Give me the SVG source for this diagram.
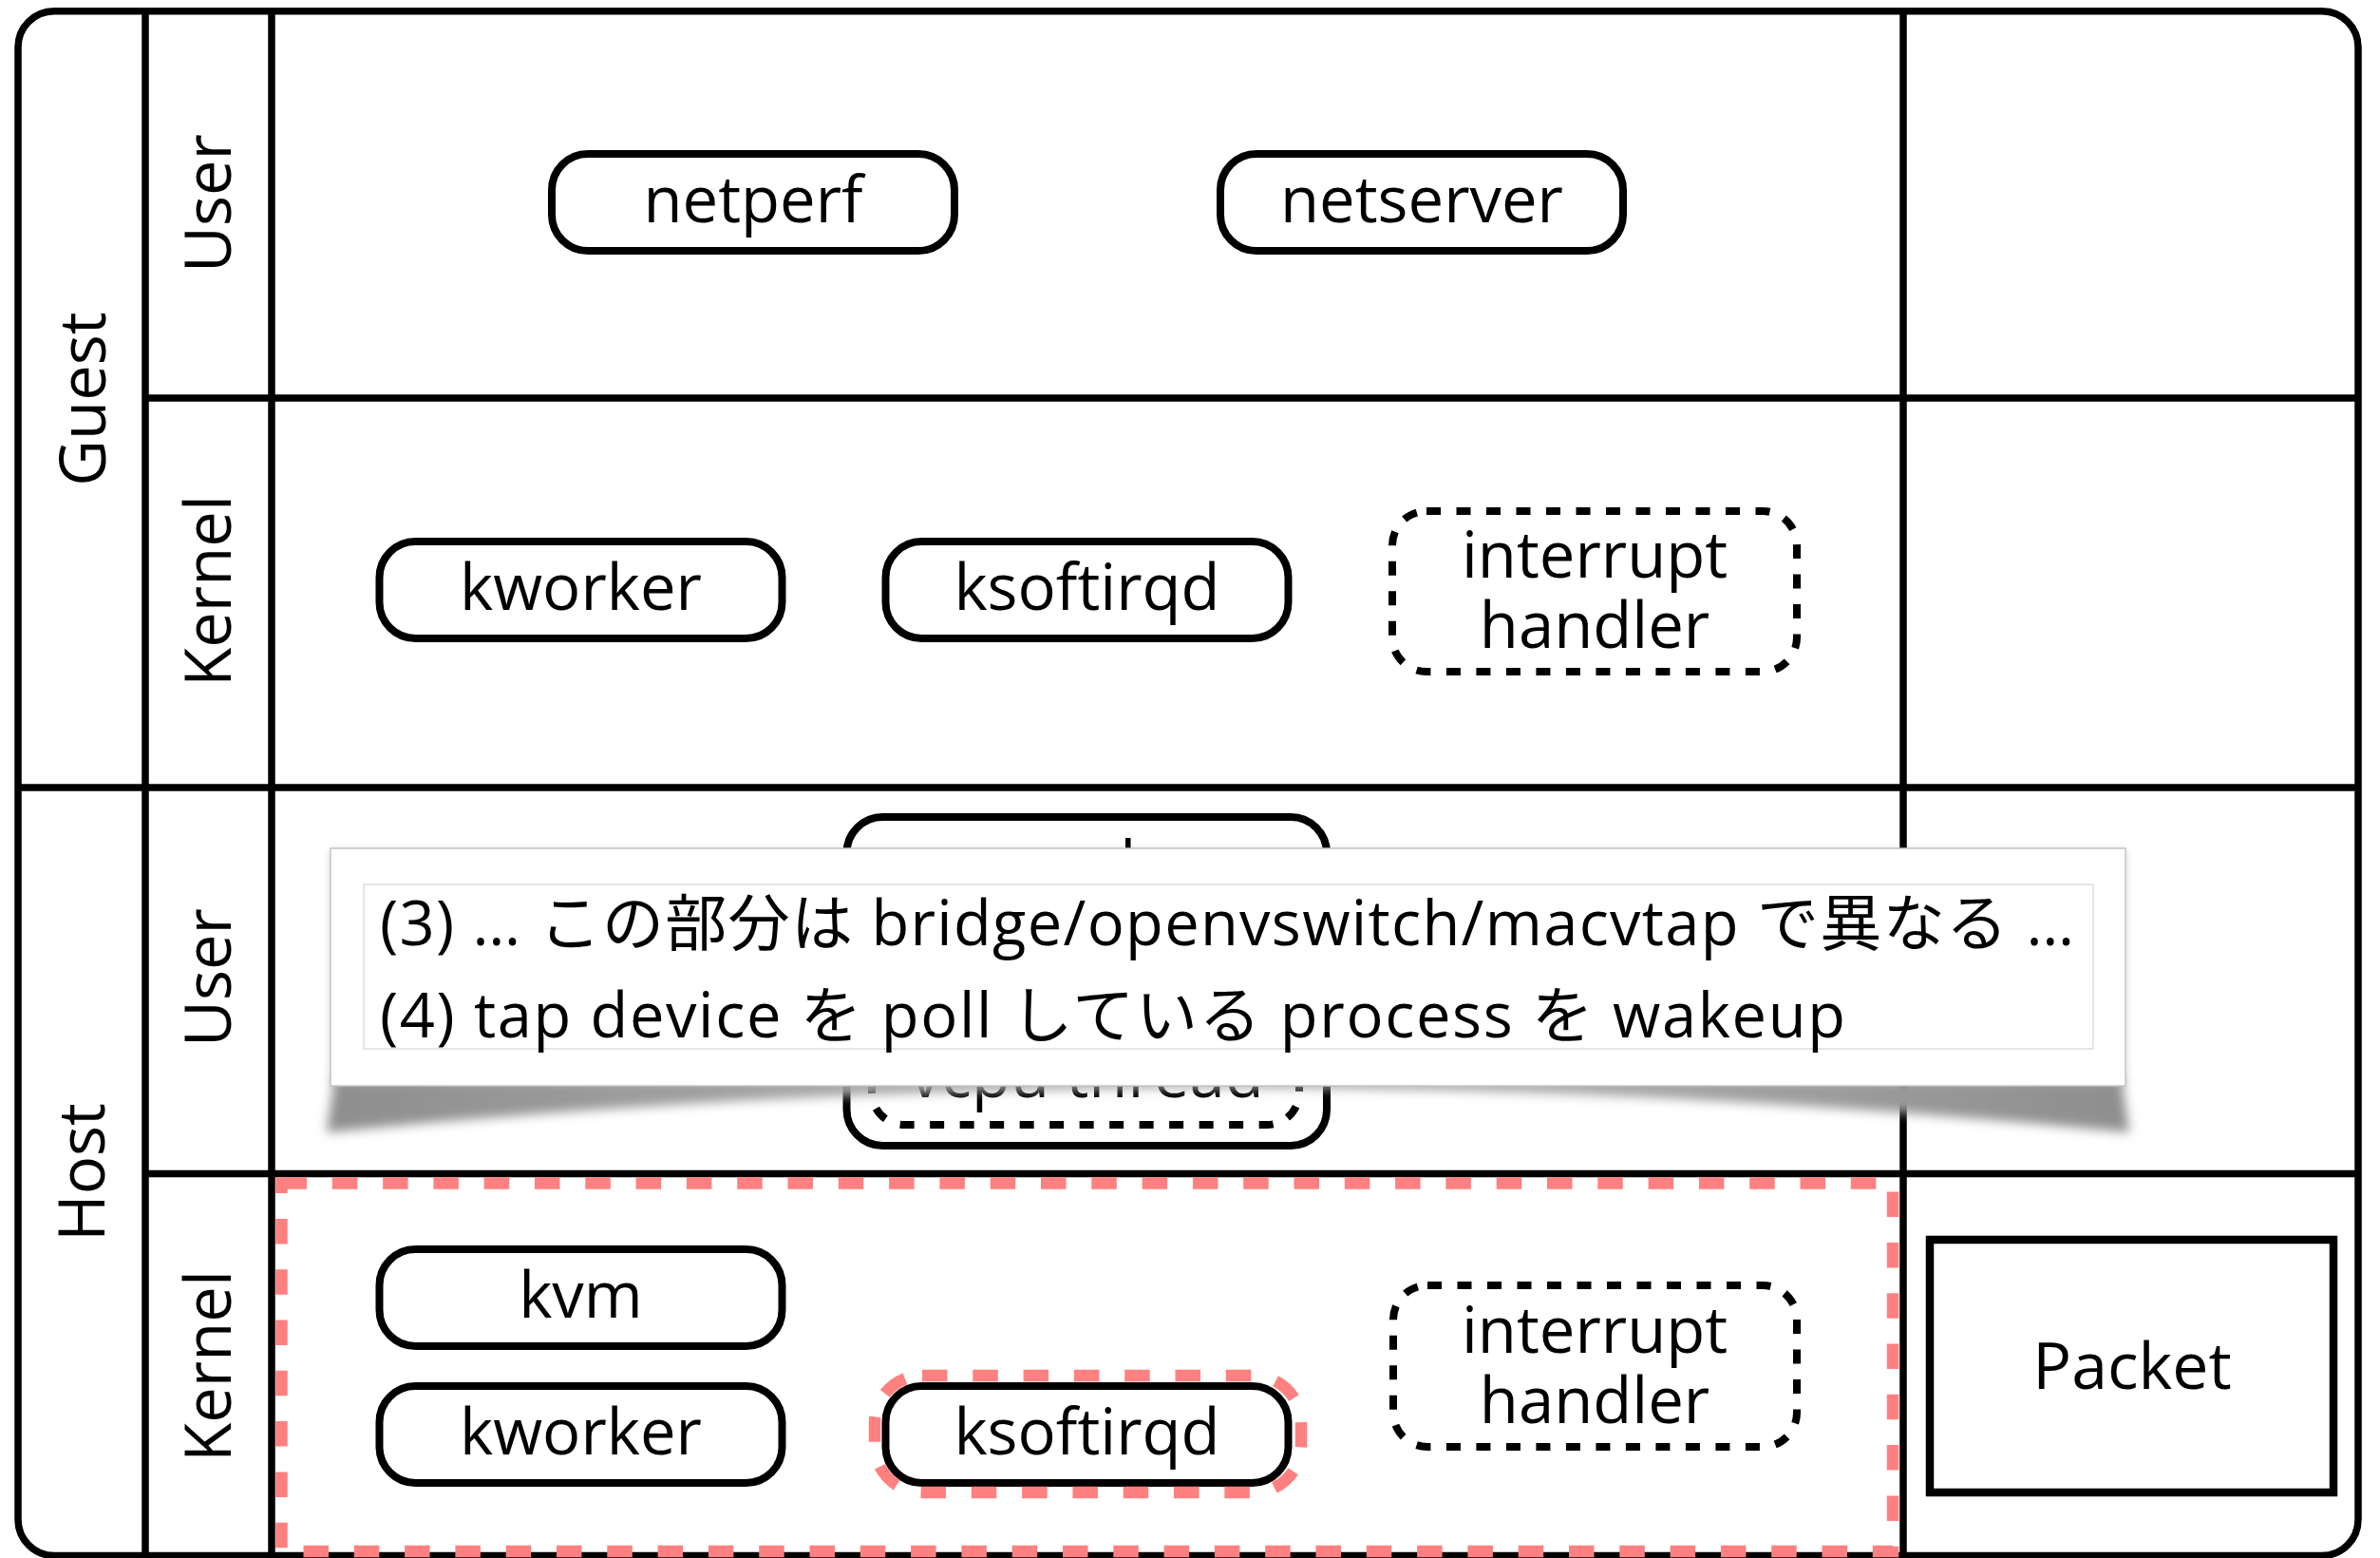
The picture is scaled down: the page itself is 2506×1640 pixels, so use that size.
<svg xmlns="http://www.w3.org/2000/svg" width="2506" height="1640" viewBox="0 0 2506 1640">
<defs>
<style>
.grid{fill:none;stroke:#000;stroke-width:7.5}
.box{fill:#fff;stroke:#000;stroke-width:8}
.dash{fill:#fff;stroke:#000;stroke-width:8;stroke-dasharray:15 16.5}
.hl{fill:none;stroke:#FF8080;stroke-width:12.5;stroke-dasharray:26.5 26.8}
.lbl{font-family:"Open Sans","Noto Sans CJK JP",sans-serif;font-size:67px;text-anchor:middle;fill:#000}
.note{font-family:"Open Sans","Noto Sans CJK JP",sans-serif;font-size:65px;fill:#000}
</style>
<filter id="blurA" x="-5%" y="-100%" width="110%" height="300%"><feGaussianBlur stdDeviation="6"/></filter>
<filter id="blurB" x="-5%" y="-20%" width="110%" height="140%"><feGaussianBlur stdDeviation="5"/></filter>
<linearGradient id="shg" x1="0" y1="0" x2="1" y2="0">
<stop offset="0" stop-color="#8e8e8e"/>
<stop offset="0.5" stop-color="#b8b8b8"/>
<stop offset="1" stop-color="#8e8e8e"/>
</linearGradient>
</defs>
<rect width="2506" height="1640" fill="#fff"/>

<g id="lanes">
<rect class="grid" x="19" y="11.7" width="2464" height="1625.8" rx="38"/>
<line class="grid" x1="153" y1="11.7" x2="153" y2="1637.5"/>
<line class="grid" x1="286" y1="11.7" x2="286" y2="1637.5"/>
<line class="grid" x1="2004" y1="11.7" x2="2004" y2="1637.5"/>
<line class="grid" x1="153" y1="419" x2="2483" y2="419"/>
<line class="grid" x1="19" y1="829" x2="2483" y2="829"/>
<line class="grid" x1="153" y1="1235.5" x2="2483" y2="1235.5"/>
<text class="lbl" transform="translate(111,420) rotate(-90)">Guest</text>
<text class="lbl" transform="translate(110,1234) rotate(-90)">Host</text>
<text class="lbl" transform="translate(243,214) rotate(-90)">User</text>
<text class="lbl" transform="translate(243,622) rotate(-90)">Kernel</text>
<text class="lbl" transform="translate(243,1029) rotate(-90)">User</text>
<text class="lbl" transform="translate(243,1438) rotate(-90)">Kernel</text>
</g>

<g id="connectors"></g>

<g id="node-netperf"><rect class="box" x="581" y="162" width="424" height="102" rx="38"/><text class="lbl" x="793" y="234">netperf</text></g>
<g id="node-netserver"><rect class="box" x="1285" y="162" width="424" height="102" rx="38"/><text class="lbl" x="1497" y="234">netserver</text></g>

<g id="node-guest-kworker"><rect class="box" x="399.5" y="570" width="424" height="102" rx="38"/><text class="lbl" x="611.5" y="642">kworker</text></g>
<g id="node-guest-ksoftirqd"><rect class="box" x="932.5" y="570" width="424" height="102" rx="38"/><text class="lbl" x="1144.5" y="642">ksoftirqd</text></g>
<g id="node-guest-irq"><rect class="dash" x="1466" y="538" width="426" height="169" rx="36"/><text class="lbl" x="1679" y="608">interrupt</text><text class="lbl" x="1679" y="682">handler</text></g>

<g id="node-host-qemu">
<rect class="box" x="891.5" y="860" width="505.5" height="346" rx="38"/>
<rect x="1185" y="882" width="5.5" height="12" fill="#000"/>
<rect class="dash" x="918" y="905" width="450" height="279" rx="34"/>
<text class="lbl" x="1144" y="1155">vcpu thread</text>
</g>

<g id="node-kvm"><rect class="box" x="399.5" y="1315" width="424" height="102" rx="38"/><text class="lbl" x="611.5" y="1387">kvm</text></g>
<g id="node-host-kworker"><rect class="box" x="399.5" y="1459" width="424" height="102" rx="38"/><text class="lbl" x="611.5" y="1531">kworker</text></g>
<g id="node-host-ksoftirqd"><rect class="box" x="932.5" y="1459" width="424" height="102" rx="38"/><text class="lbl" x="1144.5" y="1531">ksoftirqd</text></g>
<g id="node-host-irq"><rect class="dash" x="1467" y="1353" width="425" height="170" rx="36"/><text class="lbl" x="1679" y="1424">interrupt</text><text class="lbl" x="1679" y="1498">handler</text></g>
<g id="node-packet"><rect x="2032" y="1305" width="425" height="266" fill="#fff" stroke="#000" stroke-width="8.5"/><text class="lbl" x="2245" y="1462" style="font-size:68px">Packet</text></g>

<g id="highlights">
<rect class="hl" x="296.5" y="1245.5" width="1696.5" height="387.5"/>
<rect class="hl" x="921" y="1448" width="449" height="123" rx="50"/>
</g>

<g id="note">
<rect x="348" y="895" width="1890" height="248" fill="#000" opacity="0.2" filter="url(#blurB)"/>
<path d="M352,1136 L344,1192 Q1293,1098 2242,1192 L2234,1136 Z" fill="url(#shg)" filter="url(#blurA)"/>
<rect x="348" y="893" width="1890" height="250" fill="#fff" stroke="#c4c4c4" stroke-width="1.5"/>
<rect x="383" y="931" width="1821" height="173" fill="#fff" stroke="#dedede" stroke-width="1.5"/>
<text class="note" x="400" y="995" textLength="1784" lengthAdjust="spacing">(3) … この部分は bridge/openvswitch/macvtap で異なる …</text>
<text class="note" x="400" y="1092" textLength="1543" lengthAdjust="spacing">(4) tap device を poll している process を wakeup</text>
</g>
</svg>
